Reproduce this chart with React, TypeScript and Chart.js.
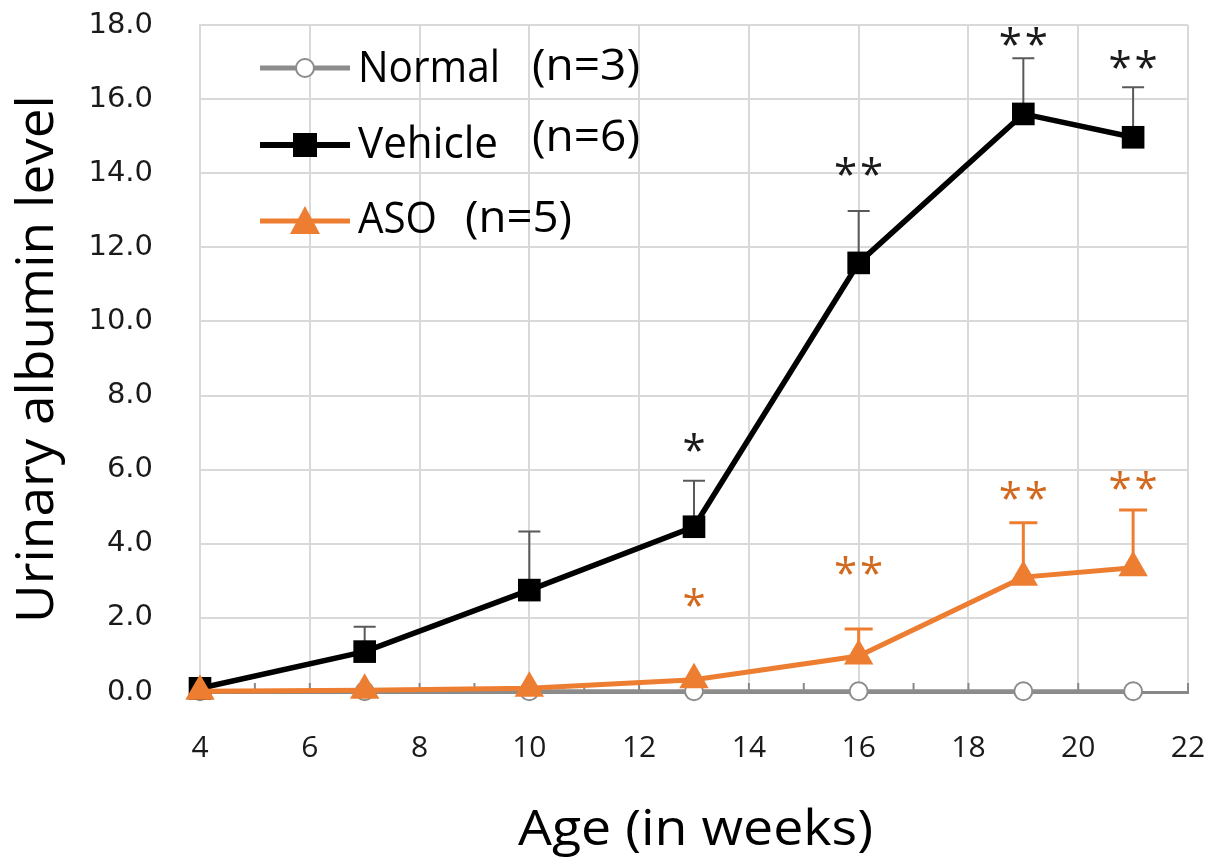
import React, { useEffect, useRef } from 'react';
import { Chart, registerables } from 'chart.js';

Chart.register(...registerables);

// ---- data ----
const weeks = [4, 7, 10, 13, 16, 19, 21];
const normalValues = [0.02, 0.02, 0.02, 0.02, 0.02, 0.02, 0.02];
const vehicleValues = [0.1, 1.09, 2.75, 4.46, 11.58, 15.6, 14.97];
const vehicleErrors = [0, 0.67, 1.58, 1.24, 1.4, 1.5, 1.35];
const asoValues = [0.02, 0.05, 0.1, 0.33, 0.97, 3.1, 3.35];
const asoErrors = [0, 0, 0, 0, 0.73, 1.47, 1.56];
const vehicleStars = ['', '', '', '*', '**', '**', '**'];
const vehicleStarY = [0, 0, 0, 6.72, 14.18, 17.69, 17.08];
const asoStars = ['', '', '', '*', '**', '**', '**'];
const asoStarY = [0, 0, 0, 2.54, 3.41, 5.45, 5.72];
const xMin = 4;
const xMax = 22;
const yMin = 0;
const yMax = 18;
const legendNames = ['Normal', 'Vehicle', 'ASO'];
const legendCounts = ['(n=3)', '(n=6)', '(n=5)'];
const xTitle = 'Age (in weeks)';
const yTitle = 'Urinary albumin level';

const GRAY = '#8c8c8c';
const BLACK = '#000000';
const ORANGE = '#ED7D31';
const ORANGE_STAR = '#D2691E';

function pts(values: number[]) {
  return weeks.map((w, i) => ({ x: w, y: values[i] }));
}

function fitText(ctx: CanvasRenderingContext2D, text: string, x: number, y: number, w: number, font: string, color: string) {
  ctx.save();
  ctx.font = font;
  ctx.fillStyle = color;
  ctx.textAlign = 'left';
  ctx.textBaseline = 'alphabetic';
  const m = ctx.measureText(text).width;
  ctx.translate(x, y);
  ctx.scale(w / m, 1);
  ctx.fillText(text, 0, 0);
  ctx.restore();
}

function drawMarker(ctx: CanvasRenderingContext2D, kind: string, x: number, y: number) {
  ctx.save();
  if (kind === 'circle') {
    ctx.beginPath();
    ctx.arc(x, y, 9, 0, Math.PI * 2);
    ctx.fillStyle = '#ffffff';
    ctx.fill();
    ctx.lineWidth = 2;
    ctx.strokeStyle = GRAY;
    ctx.stroke();
  } else if (kind === 'rect') {
    ctx.fillStyle = BLACK;
    ctx.fillRect(x - 12, y - 12, 24, 24);
  } else {
    ctx.beginPath();
    ctx.moveTo(x, y - 15);
    ctx.lineTo(x + 15, y + 13);
    ctx.lineTo(x - 15, y + 13);
    ctx.closePath();
    ctx.fillStyle = ORANGE;
    ctx.fill();
  }
  ctx.restore();
}

const decorPlugin = {
  id: 'decor',
  beforeDatasetsDraw(chart: any) {
    const ctx: CanvasRenderingContext2D = chart.ctx;
    const xs = chart.scales.x;
    const ys = chart.scales.y;
    const y0 = ys.getPixelForValue(0);
    // week tick marks
    ctx.save();
    ctx.strokeStyle = '#888888';
    ctx.lineWidth = 2;
    for (let w = xMin; w <= xMax; w++) {
      const px = xs.getPixelForValue(w);
      ctx.beginPath();
      ctx.moveTo(px, y0 - 9);
      ctx.lineTo(px, y0 + 2);
      ctx.stroke();
    }
    ctx.restore();
    // error bars
    const drawErr = (vals: number[], errs: number[], color: string, lw: number, cap: number) => {
      ctx.save();
      ctx.strokeStyle = color;
      ctx.lineWidth = lw;
      weeks.forEach((w, i) => {
        if (!errs[i]) return;
        const px = xs.getPixelForValue(w);
        const pb = ys.getPixelForValue(vals[i]);
        const pt = ys.getPixelForValue(vals[i] + errs[i]);
        ctx.beginPath();
        ctx.moveTo(px, pb);
        ctx.lineTo(px, pt);
        ctx.moveTo(px - cap / 2, pt);
        ctx.lineTo(px + cap / 2, pt);
        ctx.stroke();
      });
      ctx.restore();
    };
    drawErr(vehicleValues, vehicleErrors, '#595959', 2, 22);
    drawErr(asoValues, asoErrors, ORANGE, 3, 28);
  },
  afterDatasetsDraw(chart: any) {
    const ctx: CanvasRenderingContext2D = chart.ctx;
    const xs = chart.scales.x;
    const ys = chart.scales.y;
    // significance stars
    const drawStars = (labels: string[], yv: number[], color: string) => {
      ctx.save();
      ctx.fillStyle = color;
      ctx.font = '42px "Open Sans"';
      ctx.textAlign = 'center';
      ctx.textBaseline = 'alphabetic';
      const m = ctx.measureText('*');
      const off = (m.actualBoundingBoxAscent - m.actualBoundingBoxDescent) / 2;
      weeks.forEach((w, i) => {
        const s = labels[i];
        if (!s) return;
        const px = xs.getPixelForValue(w);
        const py = ys.getPixelForValue(yv[i]) + off;
        if (s.length === 1) {
          ctx.fillText('*', px, py);
        } else {
          ctx.fillText('*', px - 13, py);
          ctx.fillText('*', px + 13, py);
        }
      });
      ctx.restore();
    };
    drawStars(vehicleStars, vehicleStarY, '#1a1a1a');
    drawStars(asoStars, asoStarY, ORANGE_STAR);

    // legend
    const rows = [
      { y: 68, color: GRAY, lw: 5, marker: 'circle', nameW: 142, nameBase: 82, cntX: 532, cntW: 108, cntBase: 80 },
      { y: 145, color: BLACK, lw: 6, marker: 'rect', nameW: 140, nameBase: 158, cntX: 532, cntW: 108, cntBase: 151 },
      { y: 221, color: ORANGE, lw: 5, marker: 'tri', nameW: 79, nameBase: 233, cntX: 465, cntW: 107, cntBase: 232 },
    ];
    rows.forEach((r, i) => {
      ctx.save();
      ctx.strokeStyle = r.color;
      ctx.lineWidth = r.lw;
      ctx.beginPath();
      ctx.moveTo(260, r.y);
      ctx.lineTo(350, r.y);
      ctx.stroke();
      ctx.restore();
      drawMarker(ctx, r.marker, 305, r.y);
      fitText(ctx, legendNames[i], 358, r.nameBase, r.nameW, '44px "Open Sans"', '#000000');
      fitText(ctx, legendCounts[i], r.cntX, r.cntBase, r.cntW, '44px "Open Sans"', '#000000');
    });
  },
  afterDraw(chart: any) {
    const ctx: CanvasRenderingContext2D = chart.ctx;
    // x title
    fitText(ctx, xTitle, 518, 845, 355, '50px "Open Sans"', '#000000');
    // y title (rotated)
    ctx.save();
    ctx.translate(53, 623);
    ctx.rotate(-Math.PI / 2);
    fitText(ctx, yTitle, 0, 0, 528, '52px "Open Sans"', '#000000');
    ctx.restore();
  },
};

export default function App() {
  const ref = useRef<HTMLCanvasElement | null>(null);
  useEffect(() => {
    if (!ref.current) return;
    const chart = new Chart(ref.current, {
      type: 'line',
      data: {
        datasets: [
          {
            label: 'ASO',
            data: pts(asoValues),
            borderColor: ORANGE,
            backgroundColor: ORANGE,
            borderWidth: 5,
            pointStyle: 'triangle',
            pointRadius: 17,
            pointBorderWidth: 0,
            pointBackgroundColor: ORANGE,
            order: 0,
            clip: false,
          },
          {
            label: 'Vehicle',
            data: pts(vehicleValues),
            borderColor: BLACK,
            backgroundColor: BLACK,
            borderWidth: 5.5,
            pointStyle: 'rect',
            pointRadius: 16,
            pointBorderWidth: 0,
            pointBackgroundColor: BLACK,
            order: 1,
            clip: false,
          },
          {
            label: 'Normal',
            data: pts(normalValues),
            borderColor: GRAY,
            backgroundColor: '#ffffff',
            borderWidth: 4,
            pointStyle: 'circle',
            pointRadius: 9,
            pointBorderWidth: 2,
            pointBorderColor: GRAY,
            pointBackgroundColor: '#ffffff',
            order: 2,
            clip: false,
          },
        ],
      },
      options: {
        responsive: false,
        animation: false,
        devicePixelRatio: 1,
        events: [],
        layout: { padding: { left: 0, right: 38, top: 25, bottom: 0 } },
        plugins: {
          legend: { display: false },
          tooltip: { enabled: false },
          title: { display: false },
        },
        scales: {
          x: {
            type: 'linear',
            min: xMin,
            max: xMax,
            afterFit: (s: any) => { s.height = 165; s.paddingLeft = 0; s.paddingRight = 0; s.paddingTop = 0; s.paddingBottom = 0; },
            ticks: {
              stepSize: 2,
              padding: 38,
              color: '#1a1a1a',
              font: { family: '"Open Sans"', size: 30 },
            },
            grid: { color: '#d9d9d9', lineWidth: 2, drawTicks: false },
            border: { color: '#888888', width: 3 },
          },
          y: {
            type: 'linear',
            min: yMin,
            max: yMax,
            afterFit: (s: any) => { s.width = 200; s.paddingTop = 0; s.paddingBottom = 0; s.paddingLeft = 0; s.paddingRight = 0; },
            ticks: {
              stepSize: 2,
              padding: 47,
              color: '#1a1a1a',
              font: { family: '"DejaVu Sans"', size: 29 },
              callback: (v: any) => Number(v).toFixed(1),
            },
            grid: {
              color: (c: any) => (c.tick && c.tick.value === 0 ? '#888888' : '#d9d9d9'),
              lineWidth: 2,
              drawTicks: false,
            },
            border: { color: '#d9d9d9', width: 2 },
          },
        },
      },
      plugins: [decorPlugin],
    } as any);
    return () => chart.destroy();
  }, []);
  return (
    <canvas
      ref={ref}
      width={1226}
      height={857}
      style={{ position: 'fixed', left: 0, top: 0, width: 1226, height: 857, display: 'block', background: '#ffffff' }}
    />
  );
}
